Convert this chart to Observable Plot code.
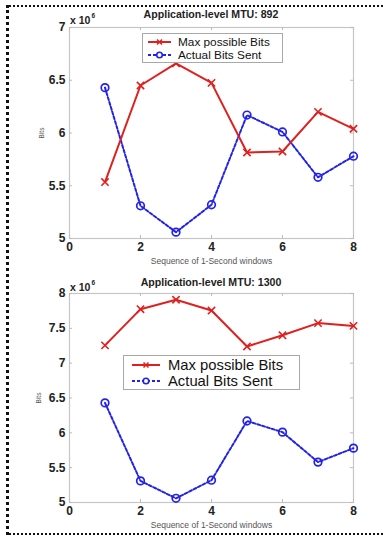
<!DOCTYPE html>
<html><head><meta charset="utf-8">
<script src="https://cdn.jsdelivr.net/npm/d3@7"></script>
<script src="https://cdn.jsdelivr.net/npm/@observablehq/plot@0.6"></script>
<style>
body{margin:0;background:#fff;}
#wrap{position:relative;width:383px;height:539px;overflow:hidden;background:#fff;font-family:"Liberation Sans",Arial,sans-serif;}
.border{position:absolute;left:6px;top:5px;width:400px;height:530px;border-top:2px dotted #111;border-left:3px dotted #111;border-bottom:2px dotted #111;box-sizing:border-box;}
.panel{position:absolute;left:0;}
.title{position:absolute;left:69px;width:284px;text-align:center;font-weight:bold;font-size:10.6px;color:#222;white-space:nowrap;}
.exp{position:absolute;left:70px;font-weight:bold;font-size:10.5px;color:#222;white-space:nowrap;}
.exp sup{font-size:6.5px;vertical-align:6px;margin-left:1px;}
.legend{position:absolute;background:#fff;border:1px solid #a8a8a8;box-sizing:border-box;color:#111;}
.legend .row{position:absolute;left:0;white-space:nowrap;display:flex;align-items:center;}
.legend svg{display:block;}
g[aria-label="x-axis label"] text{font-size:8.5px;font-weight:normal;fill:#555;}
g[aria-label="y-axis label"] text{font-size:6.5px;font-weight:normal;fill:#555;}
</style>
</head><body>
<div id="wrap"><div class="border"></div></div>
<script>
// ---- data (values in units of 10^6 bits) ----
const windows = [1, 2, 3, 4, 5, 6, 7, 8];
const actualBitsSent = [6.43, 5.31, 5.06, 5.32, 6.17, 6.01, 5.58, 5.78];
const maxBits892 = [5.535, 6.45, 6.66, 6.475, 5.815, 5.825, 6.20, 6.04];
const maxBits1300 = [7.255, 7.775, 7.91, 7.755, 7.24, 7.40, 7.575, 7.535];
const xTicks = [0, 2, 4, 6, 8];
const yTicks892 = [5, 5.5, 6, 6.5, 7];
const yTicks1300 = [5, 5.5, 6, 6.5, 7, 7.5, 8];
const panelTitles = ["Application-level MTU: 892", "Application-level MTU: 1300"];
const seriesNames = ["Max possible Bits", "Actual Bits Sent"];
const xLabel = "Sequence of 1-Second windows";
const yLabel = "Bits";

const RED = "#e0201e";
const BLUE = "#2323e6";
const wrap = document.getElementById("wrap");

function sampleSVG(kind, w) {
  const h = 10, c = w / 2, y = 5;
  if (kind === 0) {
    return `<svg width="${w}" height="${h}"><line x1="0" y1="${y}" x2="${w}" y2="${y}" stroke="${RED}" stroke-width="2"/>` +
      `<path d="M${c-2.5},${y-2.5}L${c+2.5},${y+2.5}M${c-2.5},${y+2.5}L${c+2.5},${y-2.5}" stroke="${RED}" stroke-width="1.5"/></svg>`;
  }
  return `<svg width="${w}" height="${h}"><line x1="0" y1="${y}" x2="${w}" y2="${y}" stroke="${BLUE}" stroke-width="2" stroke-dasharray="3,2"/>` +
    `<circle cx="${c}" cy="${y}" r="2.8" fill="#fff" stroke="${BLUE}" stroke-width="1.6"/></svg>`;
}

function panel(o) {
  const W = 383, ml = 69, mr = 30;
  const rows = windows.map((w, i) => ({w, max: o.maxBits[i], act: actualBitsSent[i]}));
  const innerH = o.height - o.mt - o.mb, innerW = W - ml - mr;
  const chart = Plot.plot({
    width: W, height: o.height,
    marginTop: o.mt, marginBottom: o.mb, marginLeft: ml, marginRight: mr,
    style: {fontFamily: '"Liberation Sans", Arial, sans-serif', background: "transparent", overflow: "visible", color: "#222"},
    x: {domain: [0, 8]},
    y: {domain: o.yDomain},
    marks: [
      Plot.frame({stroke: "#c6c6c6", strokeWidth: 1.2}),
      Plot.tickX(xTicks, {x: d => d, insetTop: innerH - 3, stroke: "#bbb"}),
      Plot.tickX(xTicks, {x: d => d, insetBottom: innerH - 3, stroke: "#bbb"}),
      Plot.tickY(o.yTicks, {y: d => d, insetRight: innerW - 3, stroke: "#bbb"}),
      Plot.tickY(o.yTicks, {y: d => d, insetLeft: innerW - 3, stroke: "#bbb"}),
      Plot.axisX(xTicks, {tickSize: 0, tickPadding: 4, fontSize: 12, fontWeight: "bold",
        label: xLabel, labelAnchor: "center", labelArrow: "none", labelOffset: 25}),
      Plot.axisY(o.yTicks, {tickSize: 0, tickPadding: 4, fontSize: 12, fontWeight: "bold",
        tickFormat: d => String(d),
        label: yLabel, labelAnchor: "center", labelArrow: "none", labelOffset: o.yLabelOffset}),
      Plot.line(rows, {x: "w", y: "act", stroke: BLUE, strokeWidth: 2, strokeDasharray: "3,2"}),
      Plot.dot(rows, {x: "w", y: "act", stroke: BLUE, r: 3.8, strokeWidth: 1.7}),
      Plot.line(rows, {x: "w", y: "max", stroke: RED, strokeWidth: 2}),
      Plot.dot(rows, {x: "w", y: "max", symbol: "times", stroke: RED, r: 3.4, strokeWidth: 1.6})
    ]
  });
  const div = document.createElement("div");
  div.className = "panel";
  div.style.top = o.top + "px";
  div.appendChild(chart);
  wrap.appendChild(div);

  const t = document.createElement("div");
  t.className = "title";
  t.style.top = o.titleTop + "px";
  t.textContent = o.title;
  wrap.appendChild(t);

  const e = document.createElement("div");
  e.className = "exp";
  e.style.top = o.expTop + "px";
  e.innerHTML = "x 10<sup>6</sup>";
  wrap.appendChild(e);

  const L = o.legend;
  const lg = document.createElement("div");
  lg.className = "legend";
  Object.assign(lg.style, {left: L.x + "px", top: L.y + "px", width: L.w + "px", height: L.h + "px", fontSize: L.fs + "px"});
  seriesNames.forEach((name, i) => {
    const r = document.createElement("div");
    r.className = "row";
    r.style.top = L.rows[i] + "px";
    r.style.left = L.pad + "px";
    r.innerHTML = sampleSVG(i, L.sw) + `<span style="margin-left:${L.gap}px">${name}</span>`;
    lg.appendChild(r);
  });
  wrap.appendChild(lg);
}

panel({title: panelTitles[0], maxBits: maxBits892, yDomain: [5, 7], yTicks: yTicks892,
  top: 0, height: 270, mt: 27, mb: 32, yLabelOffset: 30, titleTop: 8, expTop: 12,
  legend: {x: 142, y: 33, w: 141, h: 30, fs: 11.8, rows: [1, 14], pad: 5, sw: 23, gap: 7}});
panel({title: panelTitles[1], maxBits: maxBits1300, yDomain: [5, 8], yTicks: yTicks1300,
  top: 270, height: 269, mt: 23, mb: 37, yLabelOffset: 33, titleTop: 276, expTop: 279,
  legend: {x: 123, y: 355, w: 177, h: 35, fs: 14.8, rows: [1, 17], pad: 8, sw: 28, gap: 8}});
</script>
</body></html>
